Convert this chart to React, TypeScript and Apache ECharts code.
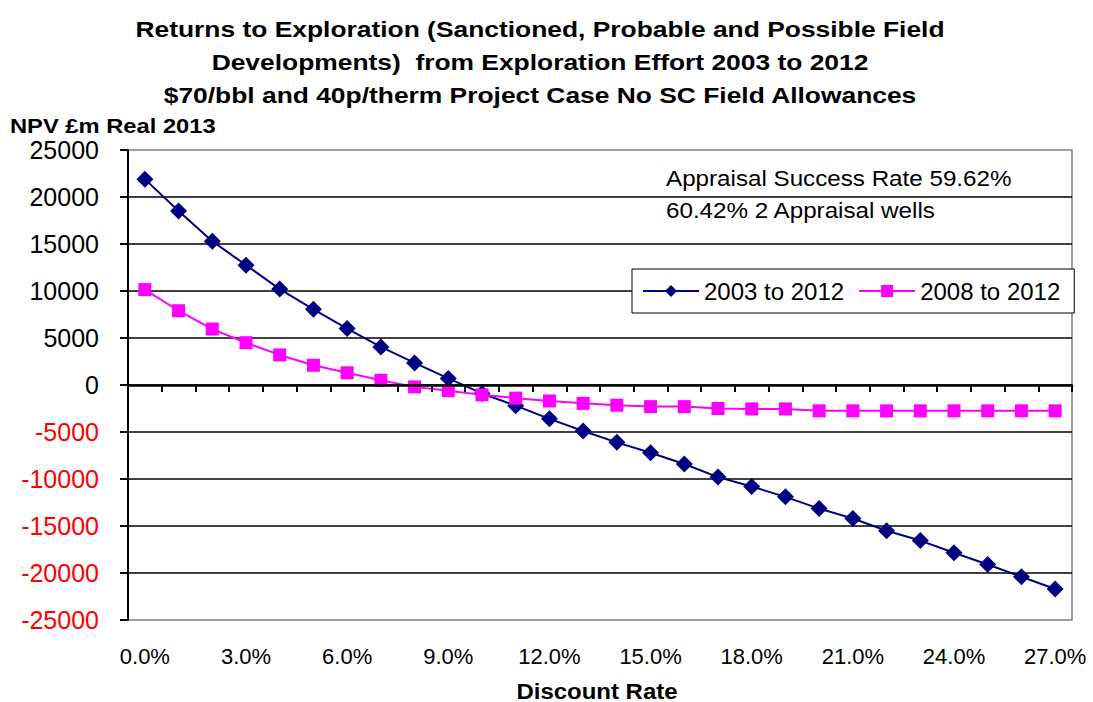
import React, { useEffect, useRef } from "react";
import * as echarts from "echarts";

const categories = [
  "0.0%", "1.0%", "2.0%", "3.0%", "4.0%", "5.0%", "6.0%", "7.0%", "8.0%", "9.0%",
  "10.0%", "11.0%", "12.0%", "13.0%", "14.0%", "15.0%", "16.0%", "17.0%", "18.0%", "19.0%",
  "20.0%", "21.0%", "22.0%", "23.0%", "24.0%", "25.0%", "26.0%", "27.0%",
];

const series2003to2012 = [
  21900, 18500, 15300, 12750, 10200, 8050, 6000, 4050, 2350, 700,
  -900, -2200, -3600, -4900, -6100, -7200, -8400, -9800, -10800, -11900,
  -13150, -14200, -15500, -16550, -17850, -19100, -20400, -21700,
];

const series2008to2012 = [
  10150, 7900, 5950, 4500, 3200, 2100, 1300, 500, -200, -600,
  -1050, -1400, -1700, -1950, -2150, -2300, -2300, -2500, -2550, -2550,
  -2750, -2750, -2750, -2750, -2750, -2750, -2750, -2750,
];

const titleLines = [
  "Returns to Exploration (Sanctioned, Probable and Possible Field",
  "Developments)  from Exploration Effort 2003 to 2012",
  "$70/bbl and 40p/therm Project Case No SC Field Allowances",
];

const annotationLines = ["Appraisal Success Rate 59.62%", "60.42% 2 Appraisal wells"];

const yAxisTitle = "NPV £m Real 2013";
const xAxisTitle = "Discount Rate";
const seriesNames = ["2003 to 2012", "2008 to 2012"];

const FONT = '"Liberation Sans", Arial, sans-serif';

export default function App() {
  const ref = useRef<HTMLDivElement>(null);

  useEffect(() => {
    if (!ref.current) return;
    const chart = echarts.init(ref.current, undefined, { renderer: "svg" });

    const gridTop = 150;
    const gridBottomPx = 620;

    const titleY = [29, 62, 95];
    const graphic: any[] = [];
    titleLines.forEach((t, i) => {
      graphic.push({
        type: "text",
        x: 540,
        y: titleY[i],
        scaleX: 1.2,
        style: {
          text: t,
          fontSize: 22,
          fontWeight: "bold",
          fontFamily: FONT,
          fill: "#000",
          textAlign: "center",
          textVerticalAlign: "middle",
        },
      });
    });
    graphic.push({
      type: "text",
      x: 10,
      y: 126,
      scaleX: 1.13,
      style: {
        text: yAxisTitle,
        fontSize: 21,
        fontWeight: "bold",
        fontFamily: FONT,
        fill: "#000",
        textAlign: "left",
        textVerticalAlign: "middle",
      },
    });
    graphic.push({
      type: "text",
      x: 597,
      y: 691,
      scaleX: 1.09,
      style: {
        text: xAxisTitle,
        fontSize: 22,
        fontWeight: "bold",
        fontFamily: FONT,
        fill: "#000",
        textAlign: "center",
        textVerticalAlign: "middle",
      },
    });
    const annY = [178, 210];
    annotationLines.forEach((t, i) => {
      graphic.push({
        type: "text",
        x: 666,
        y: annY[i],
        scaleX: 1.1,
        style: {
          text: t,
          fontSize: 22,
          fontFamily: FONT,
          fill: "#000",
          textAlign: "left",
          textVerticalAlign: "middle",
        },
      });
    });

    chart.setOption({
      animation: false,
      backgroundColor: "#fff",
      textStyle: { fontFamily: FONT },
      grid: {
        left: 128,
        right: 21,
        top: gridTop,
        bottom: 702 - gridBottomPx,
        containLabel: false,
        outerBoundsMode: "none",
        show: true,
        borderColor: "#808080",
        borderWidth: 1.5,
        backgroundColor: "transparent",
      },
      legend: {
        data: seriesNames,
        left: 632,
        top: 269,
        orient: "horizontal",
        padding: [10, 14, 10, 10],
        itemGap: 14,
        itemWidth: 56,
        itemHeight: 15,
        borderColor: "#000",
        borderWidth: 1,
        backgroundColor: "#fff",
        textStyle: { fontSize: 24, color: "#000", fontFamily: FONT },
      },
      xAxis: {
        type: "category",
        data: categories,
        position: "bottom",
        boundaryGap: true,
        axisLine: { show: true, onZero: true, lineStyle: { color: "#000", width: 2.5 } },
        axisTick: {
          show: true,
          inside: false,
          interval: 0,
          alignWithLabel: false,
          length: 7,
          lineStyle: { color: "#000", width: 2 },
        },
        splitLine: { show: false },
        axisLabel: {
          interval: 2,
          fontSize: 22,
          color: "#000",
          margin: 25,
          fontFamily: FONT,
        },
        z: 5,
      },
      yAxis: {
        type: "value",
        min: -25000,
        max: 25000,
        interval: 5000,
        axisLine: { show: true, onZero: false, lineStyle: { color: "#000", width: 2 } },
        axisTick: { show: true, inside: false, length: 8, lineStyle: { color: "#000", width: 2 } },
        axisLabel: {
          fontSize: 25,
          margin: 29,
          fontFamily: FONT,
          formatter: (v: number) => String(v),
          color: (v: any) => (Number(v) < 0 ? "#FF0000" : "#000"),
        },
        splitLine: {
          show: true,
          showMinLine: false,
          showMaxLine: false,
          lineStyle: { color: "#000", width: 1.5 },
        },
      },
      series: [
        {
          name: seriesNames[0],
          type: "line",
          data: series2003to2012,
          symbol: "diamond",
          symbolSize: 17,
          itemStyle: { color: "#000080" },
          lineStyle: { color: "#000080", width: 2 },
          z: 3,
        },
        {
          name: seriesNames[1],
          type: "line",
          data: series2008to2012,
          symbol: "rect",
          symbolSize: 13,
          itemStyle: { color: "#FF00FF" },
          lineStyle: { color: "#FF00FF", width: 2 },
          z: 4,
        },
      ],
      graphic,
    });

    return () => {
      chart.dispose();
    };
  }, []);

  return (
    <div
      ref={ref}
      style={{ position: "absolute", left: 0, top: 0, width: 1093, height: 702 }}
    />
  );
}
